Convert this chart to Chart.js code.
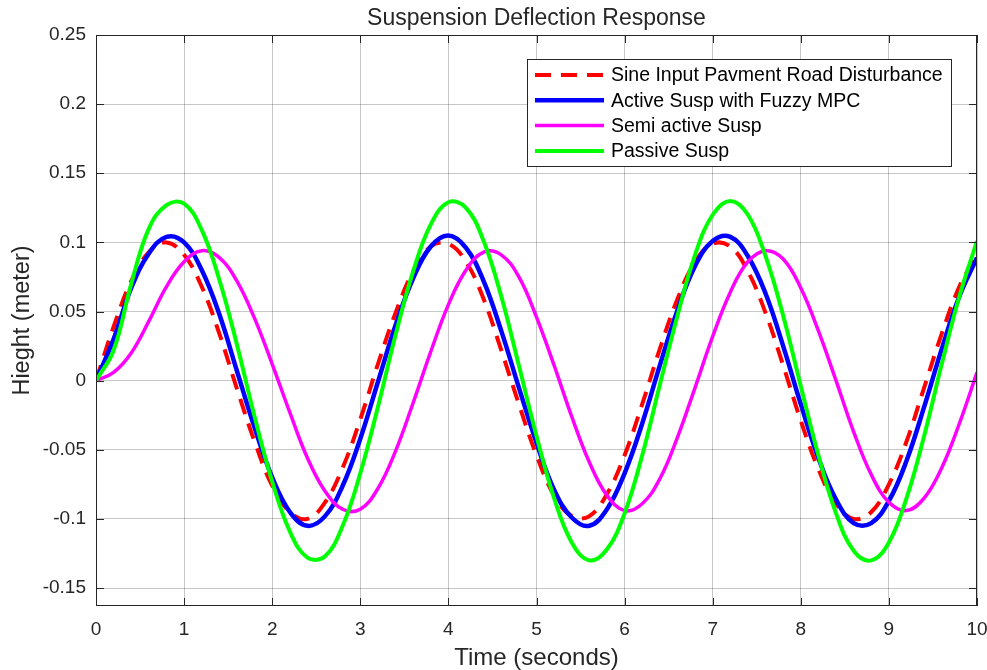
<!DOCTYPE html>
<html>
<head>
<meta charset="utf-8">
<title>Suspension Deflection Response</title>
<script src="https://cdn.jsdelivr.net/npm/chart.js@4/dist/chart.umd.min.js"></script>
<style>
    html, body { margin: 0; padding: 0; background: #fff; }
    #wrap { width: 987px; height: 670px; position: relative; }
</style>
</head>
<body>
<div id="wrap"><canvas id="chart"></canvas></div>
<script>
// time axis (s) and the four responses (m)
const times = [0, 0.2, 0.4, 0.6, 0.8, 1, 1.2, 1.4, 1.6, 1.8, 2, 2.2, 2.4, 2.6, 2.8, 3, 3.2, 3.4, 3.6, 3.8,
    4, 4.2, 4.4, 4.6, 4.8, 5, 5.2, 5.4, 5.6, 5.8, 6, 6.2, 6.4, 6.6, 6.8, 7, 7.2, 7.4, 7.6, 7.8,
    8, 8.2, 8.4, 8.6, 8.8, 9, 9.2, 9.4, 9.6, 9.8, 10];

const roadInput = [0, 0.039, 0.072, 0.093, 0.100, 0.091, 0.068, 0.034, -0.006, -0.044, -0.076, -0.095, -0.100, -0.088, -0.063, -0.028, 0.012, 0.049, 0.079, 0.097,
    0.099, 0.086, 0.059, 0.022, -0.017, -0.054, -0.083, -0.098, -0.098, -0.082, -0.054, -0.017, 0.023, 0.059, 0.086, 0.099, 0.097, 0.079, 0.049, 0.011,
    -0.029, -0.064, -0.089, -0.100, -0.095, -0.075, -0.044, -0.005, 0.034, 0.068, 0.091];

const activeFuzzy = [0, 0.030, 0.067, 0.092, 0.104, 0.100, 0.080, 0.048, 0.007, -0.034, -0.070, -0.095, -0.105, -0.098, -0.076, -0.042, -0.001, 0.040, 0.074, 0.097,
    0.105, 0.096, 0.072, 0.036, -0.005, -0.045, -0.079, -0.099, -0.105, -0.093, -0.067, -0.031, 0.011, 0.051, 0.083, 0.101, 0.104, 0.090, 0.063, 0.025,
    -0.017, -0.056, -0.086, -0.103, -0.103, -0.087, -0.058, -0.019, 0.023, 0.061, 0.089];

const semiActive = [0, 0.006, 0.020, 0.043, 0.068, 0.086, 0.094, 0.089, 0.072, 0.045, 0.012, -0.023, -0.056, -0.080, -0.093, -0.093, -0.078, -0.051, -0.016, 0.021,
    0.055, 0.080, 0.093, 0.091, 0.075, 0.046, 0.011, -0.026, -0.059, -0.083, -0.094, -0.089, -0.071, -0.041, -0.005, 0.032, 0.064, 0.086, 0.094, 0.088,
    0.067, 0.036, 0.000, -0.037, -0.068, -0.088, -0.094, -0.085, -0.063, -0.031, 0.006];

const passive = [0, 0.022, 0.070, 0.110, 0.127, 0.128, 0.109, 0.073, 0.026, -0.026, -0.073, -0.109, -0.128, -0.127, -0.105, -0.067, -0.019, 0.033, 0.079, 0.113,
    0.129, 0.125, 0.101, 0.061, 0.011, -0.040, -0.085, -0.117, -0.130, -0.122, -0.096, -0.054, -0.003, 0.047, 0.091, 0.120, 0.130, 0.120, 0.090, 0.047,
    -0.004, -0.054, -0.096, -0.123, -0.130, -0.117, -0.085, -0.040, 0.012, 0.061, 0.101];

const seriesNames = ['Sine Input Pavment Road Disturbance', 'Active Susp with Fuzzy MPC', 'Semi active Susp', 'Passive Susp'];
const chartTitle = 'Suspension Deflection Response';

const xTicks = [0, 1, 2, 3, 4, 5, 6, 7, 8, 9, 10];
const yTicks = [-0.15, -0.1, -0.05, 0, 0.05, 0.1, 0.15, 0.2, 0.25];

const AXIS_COLOR = '#262626';
const FONT = '"Liberation Sans", Arial, Helvetica, sans-serif';

Chart.defaults.font.family = FONT;
Chart.defaults.color = AXIS_COLOR;

function toPoints(values) {
    return values.map((v, i) => ({ x: times[i], y: v }));
}

// MATLAB-ish box, inward ticks, title over the axes and the boxed legend
const matlabFrame = {
    id: 'matlabFrame',
    afterDatasetsDraw(chart) {
        const { ctx, chartArea: a, scales: { x, y } } = chart;
        ctx.save();
        ctx.strokeStyle = AXIS_COLOR;
        ctx.lineWidth = 1;
        ctx.setLineDash([]);
        ctx.strokeRect(a.left + 0.5, a.top + 0.5, a.right - a.left - 1, a.bottom - a.top - 1);

        const tl = 8;
        ctx.beginPath();
        xTicks.forEach(v => {
            const px = Math.round(x.getPixelForValue(v)) + 0.5;
            ctx.moveTo(px, a.bottom); ctx.lineTo(px, a.bottom - tl);
            ctx.moveTo(px, a.top); ctx.lineTo(px, a.top + tl);
        });
        yTicks.forEach(v => {
            const py = Math.round(y.getPixelForValue(v)) + 0.5;
            ctx.moveTo(a.left, py); ctx.lineTo(a.left + tl, py);
            ctx.moveTo(a.right, py); ctx.lineTo(a.right - tl, py);
        });
        ctx.stroke();

        // title centred over the axes, like MATLAB
        ctx.fillStyle = AXIS_COLOR;
        ctx.font = '23px ' + FONT;
        ctx.textAlign = 'center';
        ctx.textBaseline = 'middle';
        ctx.fillText(chartTitle, (a.left + a.right) / 2, a.top - 16);

        // legend
        const lx = a.right - 450, ly = a.top + 24, lw = 424, lh = 107;
        ctx.fillStyle = '#fff';
        ctx.fillRect(lx, ly, lw, lh);
        ctx.strokeRect(lx + 0.5, ly + 0.5, lw, lh);
        ctx.font = '19.5px ' + FONT;
        ctx.textAlign = 'left';
        chart.data.datasets.forEach((ds, i) => {
            const cy = ly + 16 + i * 25.3;
            ctx.strokeStyle = ds.borderColor;
            ctx.lineWidth = ds.borderWidth;
            ctx.setLineDash(ds.borderDash || []);
            ctx.beginPath();
            ctx.moveTo(lx + 8, cy);
            ctx.lineTo(lx + 77, cy);
            ctx.stroke();
            ctx.setLineDash([]);
            ctx.fillStyle = '#000';
            ctx.fillText(ds.label, lx + 84, cy + 1);
        });
        ctx.restore();
    }
};

const ctx = document.getElementById('chart').getContext('2d');
new Chart(ctx, {
    type: 'line',
    data: {
        datasets: [
            {
                label: seriesNames[0],
                data: toPoints(roadInput),
                borderColor: '#ff0000',
                borderWidth: 4,
                borderDash: [16, 10],
                order: 3
            },
            {
                label: seriesNames[1],
                data: toPoints(activeFuzzy),
                borderColor: '#0000ff',
                borderWidth: 4.5,
                order: 2
            },
            {
                label: seriesNames[2],
                data: toPoints(semiActive),
                borderColor: '#ff00ff',
                borderWidth: 3.5,
                order: 1
            },
            {
                label: seriesNames[3],
                data: toPoints(passive),
                borderColor: '#00ff00',
                borderWidth: 4,
                order: 0
            }
        ]
    },
    options: {
        responsive: true,
        maintainAspectRatio: false,
        animation: false,
        layout: { padding: { top: 35, right: 10, bottom: 0, left: 0 } },
        elements: {
            line: { tension: 0.4, fill: false },
            point: { radius: 0, hoverRadius: 0 }
        },
        plugins: {
            legend: { display: false },
            tooltip: { enabled: false },
            title: { display: false }
        },
        scales: {
            x: {
                type: 'linear',
                min: 0,
                max: 10,
                afterFit: (scale) => {
                    scale.height = 64;
                    scale.paddingLeft = 0;
                    scale.paddingRight = 0;
                },
                afterBuildTicks: (scale) => { scale.ticks = xTicks.map(v => ({ value: v })); },
                grid: { color: 'rgba(0,0,0,0.22)', drawTicks: false },
                border: { display: false },
                ticks: {
                    font: { size: 19 },
                    color: AXIS_COLOR,
                    padding: 12,
                    maxRotation: 0,
                    callback: (v) => String(v)
                },
                title: {
                    display: true,
                    text: 'Time (seconds)',
                    color: AXIS_COLOR,
                    font: { size: 24, lineHeight: 1 },
                    padding: { top: 0, bottom: 0 }
                }
            },
            y: {
                type: 'linear',
                min: -0.163,
                max: 0.25,
                afterFit: (scale) => {
                    scale.width = 96;
                    scale.paddingTop = 0;
                    scale.paddingBottom = 0;
                },
                afterBuildTicks: (scale) => { scale.ticks = yTicks.map(v => ({ value: v })); },
                grid: { color: 'rgba(0,0,0,0.22)', drawTicks: false },
                border: { display: false },
                ticks: {
                    font: { size: 19 },
                    color: AXIS_COLOR,
                    padding: 10,
                    callback: (v) => String(Number(v.toFixed(2)))
                },
                title: {
                    display: true,
                    text: 'Hieght (meter)',
                    color: AXIS_COLOR,
                    font: { size: 23.5, lineHeight: 1 },
                    padding: { top: 11, bottom: 0 }
                }
            }
        }
    },
    plugins: [matlabFrame]
});
</script>
</body>
</html>
